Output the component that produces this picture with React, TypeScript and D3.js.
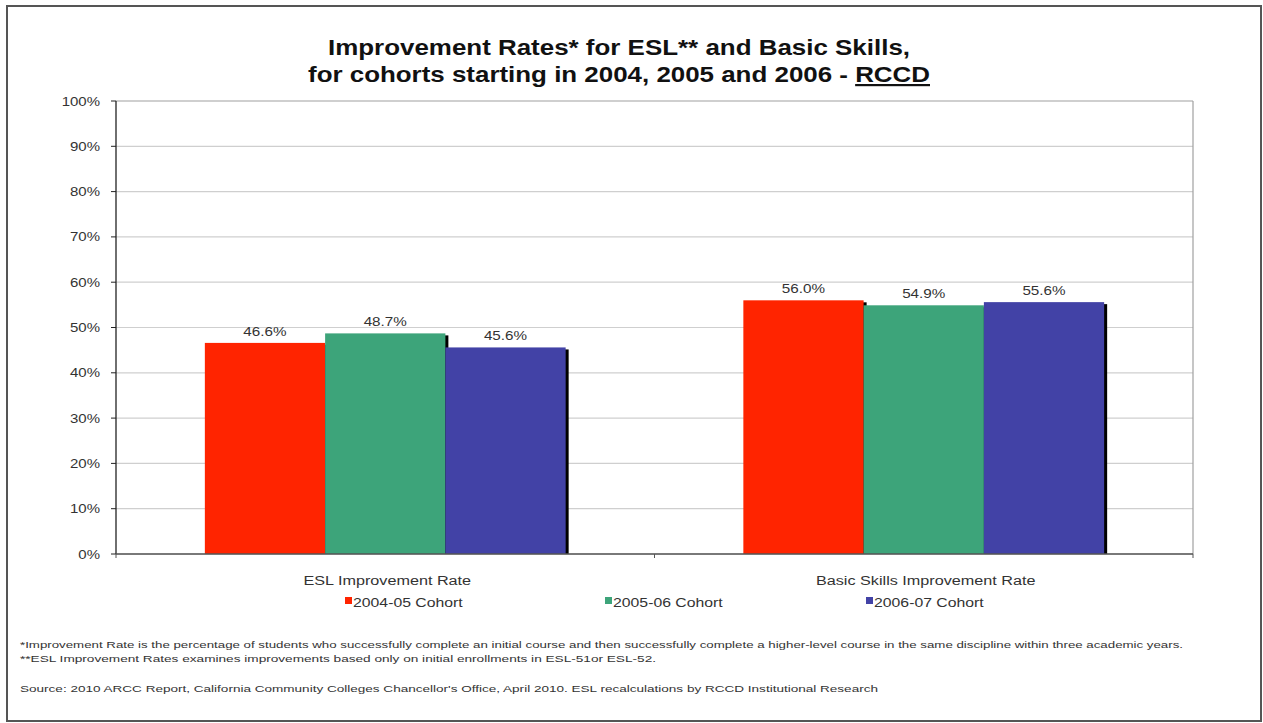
import React from "react";
import * as d3 from "d3";

const categories = ["ESL Improvement Rate", "Basic Skills Improvement Rate"];
const seriesNames = ["2004-05 Cohort", "2005-06 Cohort", "2006-07 Cohort"];
const seriesColors = ["#FF2400", "#3DA47A", "#4242A6"];
const cohort0405 = [46.6, 56.0];
const cohort0506 = [48.7, 54.9];
const cohort0607 = [45.6, 55.6];
const yTicks = [0, 10, 20, 30, 40, 50, 60, 70, 80, 90, 100];
const footnotes = [
  "*Improvement Rate is the percentage of students who successfully complete an initial course and then successfully complete a higher-level course in the same discipline within three academic years.",
  "**ESL Improvement Rates examines improvements based only on initial enrollments in ESL-51or ESL-52.",
];
const sourceNote =
  "Source: 2010 ARCC Report, California Community Colleges Chancellor's Office, April 2010.  ESL recalculations by RCCD Institutional Research";

const W = 1263;
const H = 723;
const plot = { left: 116, right: 1193, top: 101, bottom: 554 };
const font = "'Liberation Sans', Arial, sans-serif";

// horizontally stretched text (the reference is a horizontally widened scan)
function SText(props: any) {
  const { x, y, k = 1.2, children, ...rest } = props;
  return (
    <g transform={`translate(${x},${y}) scale(${k},1)`}>
      <text x={0} y={0} {...rest}>
        {children}
      </text>
    </g>
  );
}

export default function App() {
  const series = [cohort0405, cohort0506, cohort0607];
  const x0 = d3
    .scaleBand<string>()
    .domain(categories)
    .range([plot.left, plot.right])
    .paddingInner(0.33)
    .paddingOuter(0.165);
  const x1 = d3
    .scaleBand<string>()
    .domain(seriesNames)
    .range([0, x0.bandwidth()])
    .padding(0);
  const y = d3.scaleLinear().domain([0, 100]).range([plot.bottom, plot.top]);

  const bars: any[] = [];
  categories.forEach((c, ci) => {
    seriesNames.forEach((s, si) => {
      const v = series[si][ci];
      bars.push({
        x: (x0(c) as number) + (x1(s) as number),
        w: x1.bandwidth(),
        y: y(v),
        h: y(0) - y(v),
        v,
        color: seriesColors[si],
      });
    });
  });

  const legendX = [345, 605, 866];

  return (
    <svg
      width={W}
      height={H}
      style={{ position: "absolute", left: 0, top: 0, background: "#fff" }}
      fontFamily={font}
    >
      <rect x={0} y={0} width={W} height={H} fill="#fff" />
      <rect x={7} y={6} width={W - 9} height={H - 8} fill="none" stroke="#555" strokeWidth={2} />

      {/* title */}
      <text
        x={619}
        y={55}
        textAnchor="middle"
        fontSize={22}
        fontWeight="bold"
        fill="#111"
        textLength={582}
        lengthAdjust="spacingAndGlyphs"
      >
        Improvement Rates* for ESL** and Basic Skills,
      </text>
      <text
        x={619}
        y={82}
        textAnchor="middle"
        fontSize={22}
        fontWeight="bold"
        fill="#111"
        textLength={622}
        lengthAdjust="spacingAndGlyphs"
      >
        for cohorts starting in 2004, 2005 and 2006 - <tspan textDecoration="underline">RCCD</tspan>
      </text>

      {/* gridlines */}
      {yTicks.map((t) => (
        <line
          key={"g" + t}
          x1={plot.left}
          x2={plot.right}
          y1={y(t)}
          y2={y(t)}
          stroke={t === 100 ? "#a0a0a0" : "#cfcfcf"}
          strokeWidth={1.2}
        />
      ))}
      <line x1={plot.right} x2={plot.right} y1={plot.top} y2={plot.bottom} stroke="#a0a0a0" strokeWidth={1.2} />

      {/* y axis */}
      {yTicks.map((t) => (
        <g key={"t" + t}>
          <line x1={111} x2={plot.left} y1={y(t)} y2={y(t)} stroke="#222" />
          <SText x={100} y={y(t) + 4.5} k={1.2} textAnchor="end" fontSize={12.5} fill="#333">
            {t + "%"}
          </SText>
        </g>
      ))}

      {/* bar shadows */}
      {bars.map((b, i) => (
        <rect key={"s" + i} x={b.x + 3} y={b.y + 2} width={b.w} height={b.h - 2} fill="#000" />
      ))}
      {bars.map((b, i) => (
        <rect key={"b" + i} x={b.x} y={b.y} width={b.w} height={b.h} fill={b.color} />
      ))}
      {bars.map((b, i) => (
        <SText
          key={"l" + i}
          x={b.x + b.w / 2}
          y={b.y - 7}
          k={1.22}
          textAnchor="middle"
          fontSize={12.5}
          fill="#333"
        >
          {b.v.toFixed(1) + "%"}
        </SText>
      ))}

      <line x1={plot.left} x2={plot.left} y1={plot.top} y2={plot.bottom} stroke="#222" strokeWidth={1.3} />
      <line x1={plot.left} x2={plot.right} y1={plot.bottom} y2={plot.bottom} stroke="#555" strokeWidth={1.5} />
      {[plot.left, (plot.left + plot.right) / 2, plot.right].map((tx, i) => (
        <line key={"xt" + i} x1={tx} x2={tx} y1={plot.bottom} y2={plot.bottom + 4} stroke="#555" />
      ))}

      {/* category labels */}
      {categories.map((c) => (
        <SText
          key={c}
          x={(x0(c) as number) + x0.bandwidth() / 2 + 2}
          y={585}
          k={1.2}
          textAnchor="middle"
          fontSize={13.5}
          fill="#333"
        >
          {c}
        </SText>
      ))}

      {/* legend */}
      {seriesNames.map((s, i) => (
        <g key={s}>
          <rect x={legendX[i]} y={597} width={7} height={7} fill={seriesColors[i]} />
          <SText x={legendX[i] + 8} y={607} k={1.17} fontSize={13.5} fill="#333">
            {s}
          </SText>
        </g>
      ))}

      {/* footnotes */}
      <text x={20} y={648} fontSize={9.5} fill="#333" textLength={1163} lengthAdjust="spacingAndGlyphs">
        {footnotes[0]}
      </text>
      <text x={20} y={662} fontSize={9.5} fill="#333" textLength={636} lengthAdjust="spacingAndGlyphs">
        {footnotes[1]}
      </text>
      <text x={20} y={692} fontSize={9.5} fill="#333" textLength={858} lengthAdjust="spacingAndGlyphs">
        {sourceNote}
      </text>
    </svg>
  );
}
